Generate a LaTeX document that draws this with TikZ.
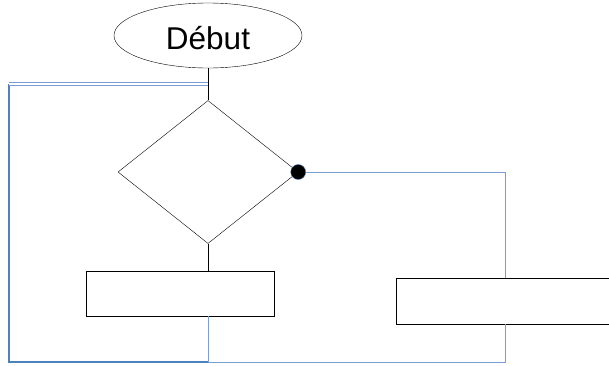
\documentclass[tikz,border=0pt]{standalone}
\usepackage{fontspec}
\setmainfont{Liberation Sans}
\usetikzlibrary{shapes.geometric}
\definecolor{loopdark}{HTML}{4F81BD}
\definecolor{looplight}{HTML}{7B9ED2}
\tikzset{
  start/.style={draw, ellipse, inner sep=0pt, minimum width=188, minimum height=65, text height=28pt, text depth=0pt, font=\fontsize{31.5}{36}\selectfont},
  test/.style={draw, diamond, inner sep=0pt, minimum width=180, minimum height=143},
  action/.style={draw, rectangle, inner sep=0pt, line width=0.9pt},
  yesdot/.style={circle, fill=black, draw=loopdark, inner sep=0pt, minimum size=15},
  flow/.style={black, line width=0.7pt},
  back/.style={looplight, line width=1pt},
  backdark/.style={loopdark, line width=1.3pt},
}
\begin{document}
\begin{tikzpicture}[x=1pt, y=-1pt]
		%%%%% START %%%%%
		\useasboundingbox (0,0) rectangle (609,365);
		
		\node[start] (debut) at (208,35.5) {Début};
		\node[test] (cond) at (208,172) {};
		\node[action, minimum width=188, minimum height=45] (act1) at (180,293.5) {};
		\node[action, minimum width=216, minimum height=46] (act2) at (504,301) {};
		
		\coordinate (loopTL) at (9,84);
		\coordinate (loopBL) at (9,362);
		\coordinate (joinTop) at (208,84);
		\coordinate (joinBot) at (208,362);
		\coordinate (rightTop) at (505,172);
		\coordinate (rightBot) at (505,362);
		
		\draw[flow] (debut) -- (cond.north);
		\draw[flow] (cond.south) -- (cond.south |- act1.north);
		
		\draw[back] (cond.south |- act1.south) -- (joinBot);
		\draw[backdark] (joinBot) -- (loopBL) -- (loopTL);
		\draw[looplight, double=white, double distance=1.6pt, line width=0.8pt] (loopTL) -- (joinTop);
		
		\draw[back] (cond.east) -- (rightTop) -- (rightTop |- act2.north);
		\draw[back] (rightTop |- act2.south) -- (rightBot) -- (joinBot);
		
		\node[yesdot] (oui) at (cond.east) {};
		
		%%%%% END %%%%%
	\end{tikzpicture}
\end{document}
